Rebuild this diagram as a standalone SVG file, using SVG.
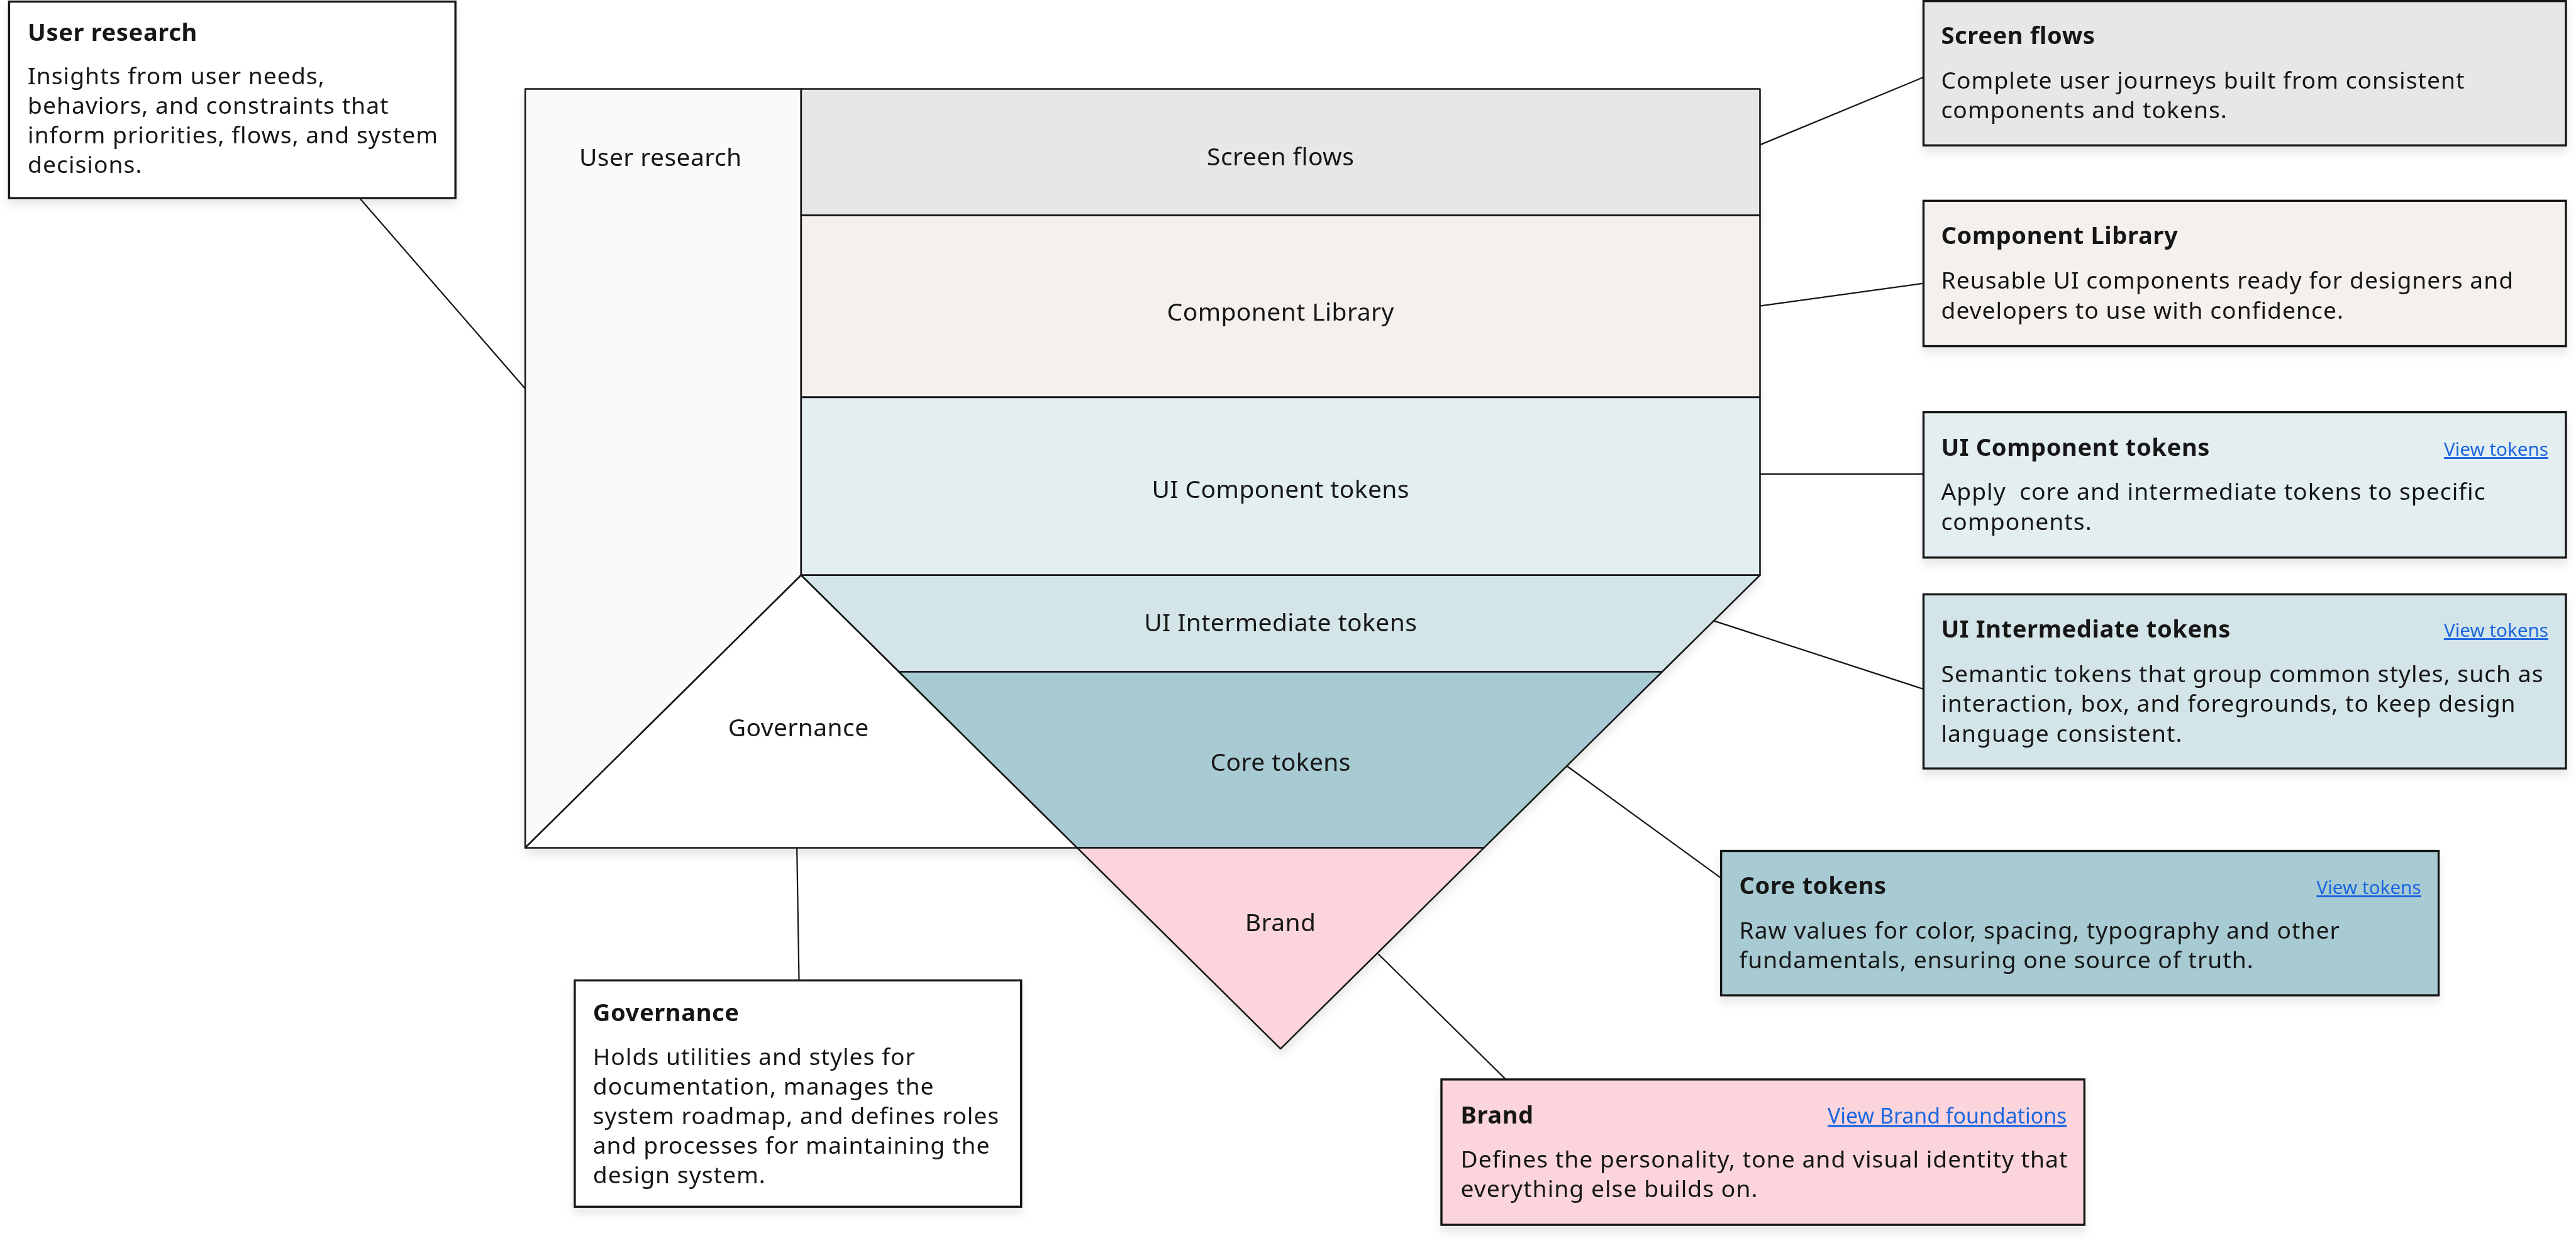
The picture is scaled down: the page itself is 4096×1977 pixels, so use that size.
<svg xmlns="http://www.w3.org/2000/svg" width="4096" height="1977" viewBox="0 0 4096 1977">
<defs>
<filter id="sh" x="-5%" y="-5%" width="110%" height="125%">
<feDropShadow dx="0" dy="12" stdDeviation="8" flood-color="#000" flood-opacity="0.09"/>
</filter>
<style>
.t{font-family:"Noto Sans","Liberation Sans",sans-serif;fill:#161616}
.box{stroke:#161616;stroke-width:4}
.shape{stroke:#161616;stroke-width:3;stroke-linejoin:round}
.conn{stroke:#161616;stroke-width:2.6;fill:none}
.title{font-size:45px;font-weight:700;letter-spacing:0.7px}
.body{font-size:44px;letter-spacing:1.2px}
.label{font-size:46px;letter-spacing:0.5px;text-anchor:middle}
.link{font-family:"Noto Sans","Liberation Sans",sans-serif;fill:#1a66e0;font-size:35px;text-anchor:end;text-decoration:underline}
</style>
</defs>
<rect width="4096" height="1977" fill="#ffffff"/>
<g transform="scale(0.847)">
<g id="connectors">
<line class="conn" x1="675" y1="372" x2="987" y2="731"/>
<line class="conn" x1="3304" y1="272" x2="3611" y2="145"/>
<line class="conn" x1="3304" y1="574.5" x2="3611" y2="532"/>
<line class="conn" x1="3304" y1="890" x2="3611" y2="890"/>
<line class="conn" x1="3218" y1="1166" x2="3611" y2="1294"/>
<line class="conn" x1="2941" y1="1438" x2="3231" y2="1649"/>
<line class="conn" x1="2587" y1="1791" x2="2827" y2="2027"/>
<line class="conn" x1="1496" y1="1592" x2="1500" y2="1841"/>
</g>
<g id="diagram" filter="url(#sh)">
<g id="layer-user-research">
<polygon class="shape" fill="#fafafa" points="986,167 1504,167 1504,1080 986,1592"/>
<text class="t label" x="1240" y="312">User research</text>
</g>
<g id="layer-governance">
<polygon class="shape" fill="#ffffff" points="1504,1080 2022,1592 986,1592"/>
<text class="t label" x="1499" y="1383">Governance</text>
</g>
<g id="layer-screen-flows">
<rect class="shape" fill="#e7e7ea" x="1504" y="167" width="1800" height="237.5"/>
<text class="t label" x="2404" y="310">Screen flows</text>
</g>
<g id="layer-component-library">
<rect class="shape" fill="#f3f0ed" x="1504" y="404.5" width="1800" height="341.5"/>
<text class="t label" x="2404" y="602">Component Library</text>
</g>
<g id="layer-ui-component-tokens">
<rect class="shape" fill="#e3eef0" x="1504" y="746" width="1800" height="334"/>
<text class="t label" x="2404" y="935">UI Component tokens</text>
</g>
<g id="layer-ui-intermediate-tokens">
<polygon class="shape" fill="#d4e5e9" points="1504,1080 3304,1080 3120.3,1261.5 1687.7,1261.5"/>
<text class="t label" x="2404" y="1185">UI Intermediate tokens</text>
</g>
<g id="layer-core-tokens">
<polygon class="shape" fill="#a7cad3" points="1687.7,1261.5 3120.3,1261.5 2785.9,1592 2022.1,1592"/>
<text class="t label" x="2404" y="1448">Core tokens</text>
</g>
<g id="layer-brand">
<polygon class="shape" fill="#fbd5db" points="2022.1,1592 2785.9,1592 2404,1969.4"/>
<text class="t label" x="2404" y="1749">Brand</text>
</g>
</g>
<g id="card-user-research" filter="url(#sh)">
<rect class="box" fill="#ffffff" x="17" y="3" width="838" height="369"/>
<text class="t title" x="52" y="77">User research</text>
<text class="t body" x="52" y="158.5">Insights from user needs,</text>
<text class="t body" x="52" y="214">behaviors, and constraints that</text>
<text class="t body" x="52" y="269.5">inform priorities, flows, and system</text>
<text class="t body" x="52" y="325">decisions.</text>
</g>
<g id="card-screen-flows" filter="url(#sh)">
<rect class="box" fill="#e7e7ea" x="3611" y="2" width="1206" height="271"/>
<text class="t title" x="3644" y="83">Screen flows</text>
<text class="t body" x="3644" y="166">Complete user journeys built from consistent</text>
<text class="t body" x="3644" y="222">components and tokens.</text>
</g>
<g id="card-component-library" filter="url(#sh)">
<rect class="box" fill="#f3f0ed" x="3611" y="377" width="1206" height="273"/>
<text class="t title" x="3644" y="458">Component Library</text>
<text class="t body" x="3644" y="542">Reusable UI components ready for designers and</text>
<text class="t body" x="3644" y="598">developers to use with confidence.</text>
</g>
<g id="card-ui-component-tokens" filter="url(#sh)">
<rect class="box" fill="#e3eef0" x="3611" y="774" width="1206" height="273"/>
<text class="t title" x="3644" y="856">UI Component tokens</text>
<text class="link" x="4784" y="856">View tokens</text>
<text class="t body" x="3644" y="939" xml:space="preserve">Apply  core and intermediate tokens to specific</text>
<text class="t body" x="3644" y="995">components.</text>
</g>
<g id="card-ui-intermediate-tokens" filter="url(#sh)">
<rect class="box" fill="#d4e5e9" x="3611" y="1116" width="1206" height="327"/>
<text class="t title" x="3644" y="1197">UI Intermediate tokens</text>
<text class="link" x="4784" y="1196">View tokens</text>
<text class="t body" x="3644" y="1281">Semantic tokens that group common styles, such as</text>
<text class="t body" x="3644" y="1337">interaction, box, and foregrounds, to keep design</text>
<text class="t body" x="3644" y="1393">language consistent.</text>
</g>
<g id="card-core-tokens" filter="url(#sh)">
<rect class="box" fill="#a7cad3" x="3231" y="1598" width="1347" height="271"/>
<text class="t title" x="3265" y="1679">Core tokens</text>
<text class="link" x="4545" y="1679">View tokens</text>
<text class="t body" x="3265" y="1763">Raw values for color, spacing, typography and other</text>
<text class="t body" x="3265" y="1818">fundamentals, ensuring one source of truth.</text>
</g>
<g id="card-brand" filter="url(#sh)">
<rect class="box" fill="#fbd5db" x="2706" y="2027" width="1207" height="273"/>
<text class="t title" x="2742" y="2110">Brand</text>
<text class="link" x="3880" y="2110" style="font-size:40px">View Brand foundations</text>
<text class="t body" x="2742" y="2192">Defines the personality, tone and visual identity that</text>
<text class="t body" x="2742" y="2248">everything else builds on.</text>
</g>
<g id="card-governance" filter="url(#sh)">
<rect class="box" fill="#ffffff" x="1079" y="1841" width="838" height="425"/>
<text class="t title" x="1113" y="1917">Governance</text>
<text class="t body" x="1113" y="2000">Holds utilities and styles for</text>
<text class="t body" x="1113" y="2056">documentation, manages the</text>
<text class="t body" x="1113" y="2111">system roadmap, and defines roles</text>
<text class="t body" x="1113" y="2167">and processes for maintaining the</text>
<text class="t body" x="1113" y="2222">design system.</text>
</g>
</g>
</svg>
